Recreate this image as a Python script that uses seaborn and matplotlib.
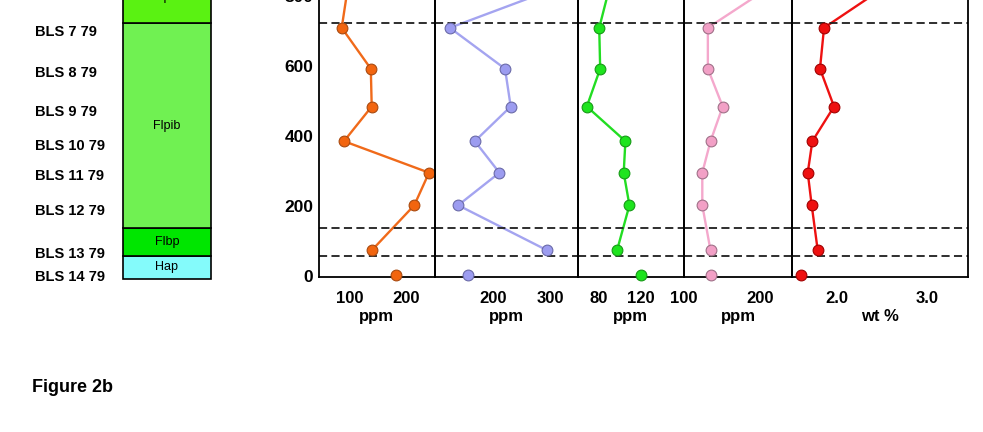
import matplotlib
matplotlib.use("Agg")
import matplotlib.pyplot as plt
import seaborn as sns

# ---- data -------------------------------------------------------------
# sample depths of the profile (uppermost sample lies above the plotted window)
depth = [830, 709, 592, 484, 385, 295, 202, 73, 3]

orange_ppm = [98, 86.6, 138, 139.6, 90.6, 240.8, 214.8, 139.6, 182.5]
blue_ppm = [322, 124.8, 220.8, 230.7, 168.2, 211, 139.2, 294.4, 156]
green_ppm = [90.9, 80.7, 81.6, 69, 105.4, 103.8, 109.2, 97.5, 120.4]
pink_ppm = [216, 131.3, 131.3, 150.8, 134.8, 124, 124, 134.8, 134.8]
red_wt = [2.56, 1.859, 1.814, 1.97, 1.729, 1.678, 1.722, 1.789, 1.6]

sample_names = ["BLS 7 79", "BLS 8 79", "BLS 9 79", "BLS 10 79",
                "BLS 11 79", "BLS 12 79", "BLS 13 79", "BLS 14 79"]
sample_depth = [700, 584, 474, 377, 291, 191, 68, 0]

layer_names = ["Hap", "Flbp", "Flpib", "Flpia"]
layer_bottom = [-9, 58, 136, 722]
layer_top = [58, 136, 722, 870]

depth_ticks = [0, 200, 400, 600, 800]

# ---- style ------------------------------------------------------------
sns.set_style("white")
plt.rcParams["font.family"] = ["Liberation Sans", "DejaVu Sans"]
plt.rcParams["font.weight"] = "bold"
plt.rcParams["text.color"] = "black"
plt.rcParams["axes.labelcolor"] = "black"
plt.rcParams["xtick.labelcolor"] = "black"
plt.rcParams["ytick.labelcolor"] = "black"

layer_colors = {"Hap": "#84fbfb", "Flbp": "#00e600",
                "Flpib": "#70f152", "Flpia": "#5af212"}
TICK_GREY = "#8c8c8c"

W, H = 983, 432
Y0, YLIM = 277, (-3, 1000)
PX_PER_UNIT = 0.35

fig = plt.figure(figsize=(W / 100, H / 100), dpi=100)


def box(x0, x1):
    height = (YLIM[1] - YLIM[0]) * PX_PER_UNIT
    return [x0 / W, (H - Y0) / H, (x1 - x0) / W, height / H]


# ---- stratigraphic column ----------------------------------------------
ax_s = fig.add_axes(box(123, 211))
heights = [t - b for t, b in zip(layer_top, layer_bottom)]
bars = ax_s.bar(x=[0] * len(layer_names), height=heights, bottom=layer_bottom,
                width=1.0, color=[layer_colors[n] for n in layer_names],
                edgecolor="black", linewidth=1.2)
for b in bars:
    b.set_clip_on(False)
for name, b, t in zip(layer_names, layer_bottom, layer_top):
    ax_s.text(0, (b + t) / 2, name, ha="center", va="center",
              fontsize=9, fontweight="medium", color="black")
ax_s.set_xlim(-0.5, 0.5)
ax_s.set_ylim(*YLIM)
ax_s.set_xticks([])
ax_s.set_yticks(sample_depth, sample_names)
ax_s.tick_params(axis="y", direction="out", length=7, width=0.8,
                 color=TICK_GREY, labelsize=10.5, pad=56)
for lbl in ax_s.get_yticklabels():
    lbl.set_horizontalalignment("left")
for sp in ax_s.spines.values():
    sp.set_visible(False)

# ---- geochemical profiles ---------------------------------------------
panels = [
    dict(vals=orange_ppm, x0=319, x1=434.5, xlim=(46.5, 250.5),
         ticks=[100, 150, 200], labels=["100", "", "200"], unit="ppm",
         line="#f06a1a", fill="#f2650f", edge="#a84a10"),
    dict(vals=blue_ppm, x0=434.5, x1=577.5, xlim=(98, 347),
         ticks=[150, 200, 250, 300], labels=["", "200", "", "300"], unit="ppm",
         line="#a4a4f0", fill="#9c9cf0", edge="#6a6aa8"),
    dict(vals=green_ppm, x0=577.5, x1=684, xlim=(60.2, 160.7),
         ticks=[80, 100, 120, 140], labels=["80", "", "120", ""], unit="ppm",
         line="#22dd22", fill="#1ee41e", edge="#169a16"),
    dict(vals=pink_ppm, x0=684, x1=792, xlim=(100, 241.7),
         ticks=[100, 150, 200], labels=["100", "", "200"], unit="ppm",
         line="#f4a8cc", fill="#f2a0c6", edge="#a07088"),
    dict(vals=red_wt, x0=792, x1=968, xlim=(1.503, 3.459),
         ticks=[2.0, 2.5, 3.0], labels=["2.0", "", "3.0"], unit="wt %",
         line="#ee1111", fill="#ee1010", edge="#a00000"),
]

for i, p in enumerate(panels):
    ax = fig.add_axes(box(p["x0"], p["x1"]))
    # connected profile (the surface sample is plotted on its own)
    sns.lineplot(x=p["vals"][:-1], y=depth[:-1], sort=False, estimator=None,
                 color=p["line"], linewidth=1.7, ax=ax, legend=False)
    sns.scatterplot(x=p["vals"], y=depth, color=p["fill"], edgecolor=p["edge"],
                    linewidth=0.8, s=60, zorder=4, ax=ax, legend=False,
                    clip_on=False)
    for b in layer_bottom[1:]:
        ax.axhline(b, color="#1e1e1e", linewidth=1.3, dashes=(4.5, 2.4),
                   zorder=2)
    ax.set_xlim(*p["xlim"])
    ax.set_ylim(*YLIM)
    ax.set_xticks(p["ticks"], p["labels"])
    ax.tick_params(axis="x", direction="in", length=8.6, width=0.8,
                   color=TICK_GREY, labelsize=12, pad=10)
    ax.set_xlabel(p["unit"], fontsize=12, fontweight="bold", labelpad=2.5)
    if i == 0:
        ax.set_yticks(depth_ticks)
        ax.tick_params(axis="y", direction="in", length=7, width=0.8,
                       color=TICK_GREY, labelsize=12.5, pad=4)
    else:
        ax.set_yticks([])
    ax.set_ylabel("")
    ax.spines["top"].set_visible(False)
    for side in ("left", "right", "bottom"):
        ax.spines[side].set_color("black")
        ax.spines[side].set_linewidth(1.3)
    ax.patch.set_alpha(0)

fig.text(32 / W, 1 - 388 / H, "Figure 2b", fontsize=13, fontweight="bold",
         va="center", ha="left")

fig.savefig("out.png", dpi=100)
